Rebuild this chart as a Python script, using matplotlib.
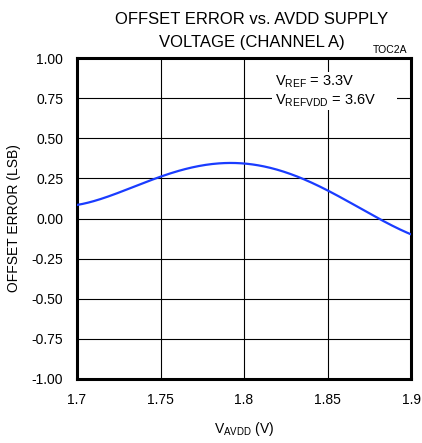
import numpy as np
import matplotlib
matplotlib.use("Agg")
import matplotlib.pyplot as plt
from matplotlib.patches import Rectangle

plt.rcParams['font.family'] = ['Liberation Sans', 'DejaVu Sans']
plt.rcParams['mathtext.fontset'] = 'custom'
plt.rcParams['mathtext.rm'] = 'Liberation Sans'
plt.rcParams['mathtext.it'] = 'Liberation Sans'
plt.rcParams['mathtext.default'] = 'regular'

# curve
v_avdd = [1.700, 1.718, 1.735, 1.750, 1.768, 1.780, 1.792, 1.800, 1.810,
          1.818, 1.834, 1.850, 1.868, 1.880, 1.890, 1.900]
offset_err = [0.083, 0.139, 0.200, 0.259, 0.315, 0.337, 0.347, 0.345, 0.332,
              0.311, 0.249, 0.170, 0.077, 0.004, -0.050, -0.100]

xticks = [1.7, 1.75, 1.8, 1.85, 1.9]
xtick_labels = ['1.7', '1.75', '1.8', '1.85', '1.9']
yticks = [-1.0, -0.75, -0.5, -0.25, 0.0, 0.25, 0.5, 0.75, 1.0]

# smooth the read points a bit for drawing
xs = np.linspace(v_avdd[0], v_avdd[-1], 300)
coef = np.polyfit(v_avdd, offset_err, 5)
ys = np.polyval(coef, xs)

fig = plt.figure(figsize=(4.22, 4.43), dpi=100)
ax = fig.add_axes([0.1825, 0.1445, 0.7915, 0.7245])

ax.plot(xs, ys, color='#1a3cff', lw=1.6, zorder=3)

ax.set_xlim(1.7, 1.9)
ax.set_ylim(-1.0, 1.0)
ax.set_xticks(xticks)
ax.set_xticklabels(xtick_labels)
ax.set_yticks(yticks)
ax.set_yticklabels(['%.2f' % t for t in yticks])
ax.tick_params(length=0, labelsize=10)
ax.tick_params(axis='y', pad=10)
ax.tick_params(axis='x', pad=10)
ax.grid(True, color='black', lw=0.8)
ax.set_axisbelow(True)
for s in ax.spines.values():
    s.set_linewidth(2.2)

ax.set_xlabel('$V_{AVDD}$ (V)', fontsize=10)
ax.set_ylabel('OFFSET ERROR (LSB)', fontsize=10)
ax.xaxis.set_label_coords(0.5, -0.128)
ax.yaxis.set_label_coords(-0.168, 0.5)

fig.text(0.596, 0.9458, 'OFFSET ERROR vs. AVDD SUPPLY', ha='center',
         va='baseline', fontsize=12)
fig.text(0.596, 0.894, 'VOLTAGE (CHANNEL A)', ha='center',
         va='baseline', fontsize=12)
fig.text(0.924, 0.887, 'TOC2A', ha='center', va='center', fontsize=7.5)

# white box behind the note, hides the grid there
ax.add_patch(Rectangle((0.584, 0.838), 0.374, 0.118, transform=ax.transAxes,
                       facecolor='white', edgecolor='none', zorder=2))
ax.text(0.593, 0.913, '$V_{REF}$ = 3.3V', transform=ax.transAxes,
        ha='left', va='baseline', fontsize=10.5, zorder=4)
ax.text(0.593, 0.854, '$V_{REFVDD}$ = 3.6V', transform=ax.transAxes,
        ha='left', va='baseline', fontsize=10.5, zorder=4)

fig.savefig('out.png', dpi=100)
